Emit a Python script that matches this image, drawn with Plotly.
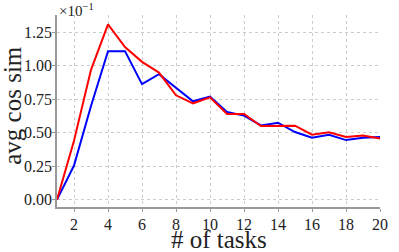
import plotly.graph_objects as go

tasks = list(range(1, 21))
red_vals = [0.0, 0.44, 0.97, 1.31, 1.14, 1.03, 0.95, 0.78, 0.72, 0.765, 0.64, 0.64, 0.55, 0.553, 0.553, 0.485, 0.503, 0.468, 0.48, 0.457]
blue_vals = [0.0, 0.255, 0.70, 1.11, 1.11, 0.863, 0.938, 0.84, 0.735, 0.77, 0.655, 0.628, 0.555, 0.575, 0.505, 0.463, 0.485, 0.445, 0.463, 0.468]
x_ticks = [2, 4, 6, 8, 10, 12, 14, 16, 18, 20]
y_ticks = [0.0, 0.25, 0.5, 0.75, 1.0, 1.25]

font_family = "Liberation Serif, DejaVu Serif, serif"

fig = go.Figure()
fig.add_trace(go.Scatter(x=tasks, y=blue_vals, mode="lines",
                         line=dict(color="#0000ff", width=2), showlegend=False))
fig.add_trace(go.Scatter(x=tasks, y=red_vals, mode="lines",
                         line=dict(color="#ff0000", width=2), showlegend=False))

fig.update_layout(
    width=399, height=252,
    margin=dict(l=57, r=11, t=15, b=45),
    paper_bgcolor="white", plot_bgcolor="white",
    font=dict(family=font_family, color="#222222"),
)
fig.update_xaxes(
    range=[1, 20], tickvals=x_ticks, ticktext=[str(v) for v in x_ticks],
    showgrid=True, gridcolor="#cccccc", griddash="dot", gridwidth=1,
    showline=True, linecolor="#999999", linewidth=1.5,
    ticks="outside", ticklen=3, tickcolor="#999999",
    tickfont=dict(size=16, family=font_family),
    ticklabelstandoff=-1,
    zeroline=False,
)
fig.update_yaxes(
    range=[-0.055, 1.38], tickvals=y_ticks, ticktext=[f"{v:.2f}" for v in y_ticks],
    showgrid=True, gridcolor="#cccccc", griddash="dot", gridwidth=1,
    showline=True, linecolor="#999999", linewidth=1.5,
    ticks="outside", ticklen=3, tickcolor="#999999",
    tickfont=dict(size=16, family=font_family),
    ticklabelstandoff=-3,
    zeroline=False,
)
fig.add_annotation(
    text="# of tasks", xref="paper", yref="paper", x=0.5, y=0,
    xanchor="center", yanchor="top", showarrow=False, yshift=-17,
    font=dict(size=25, family=font_family, color="#222222"),
)
fig.add_annotation(
    text="avg cos sim", xref="paper", yref="paper", x=0, y=0.53,
    xanchor="right", yanchor="middle", showarrow=False, xshift=-29, textangle=-90,
    font=dict(size=25, family=font_family, color="#222222"),
)
fig.add_annotation(
    text="×10<sup>−1</sup>", xref="paper", yref="paper", x=0.0, y=1.0,
    xanchor="left", yanchor="bottom", showarrow=False, yshift=-6,
    font=dict(size=15, family=font_family, color="#222222"),
)

fig.write_html("out.html", config={"displayModeBar": False},
               post_script="document.body.style.margin='0';document.body.style.overflow='hidden';")
